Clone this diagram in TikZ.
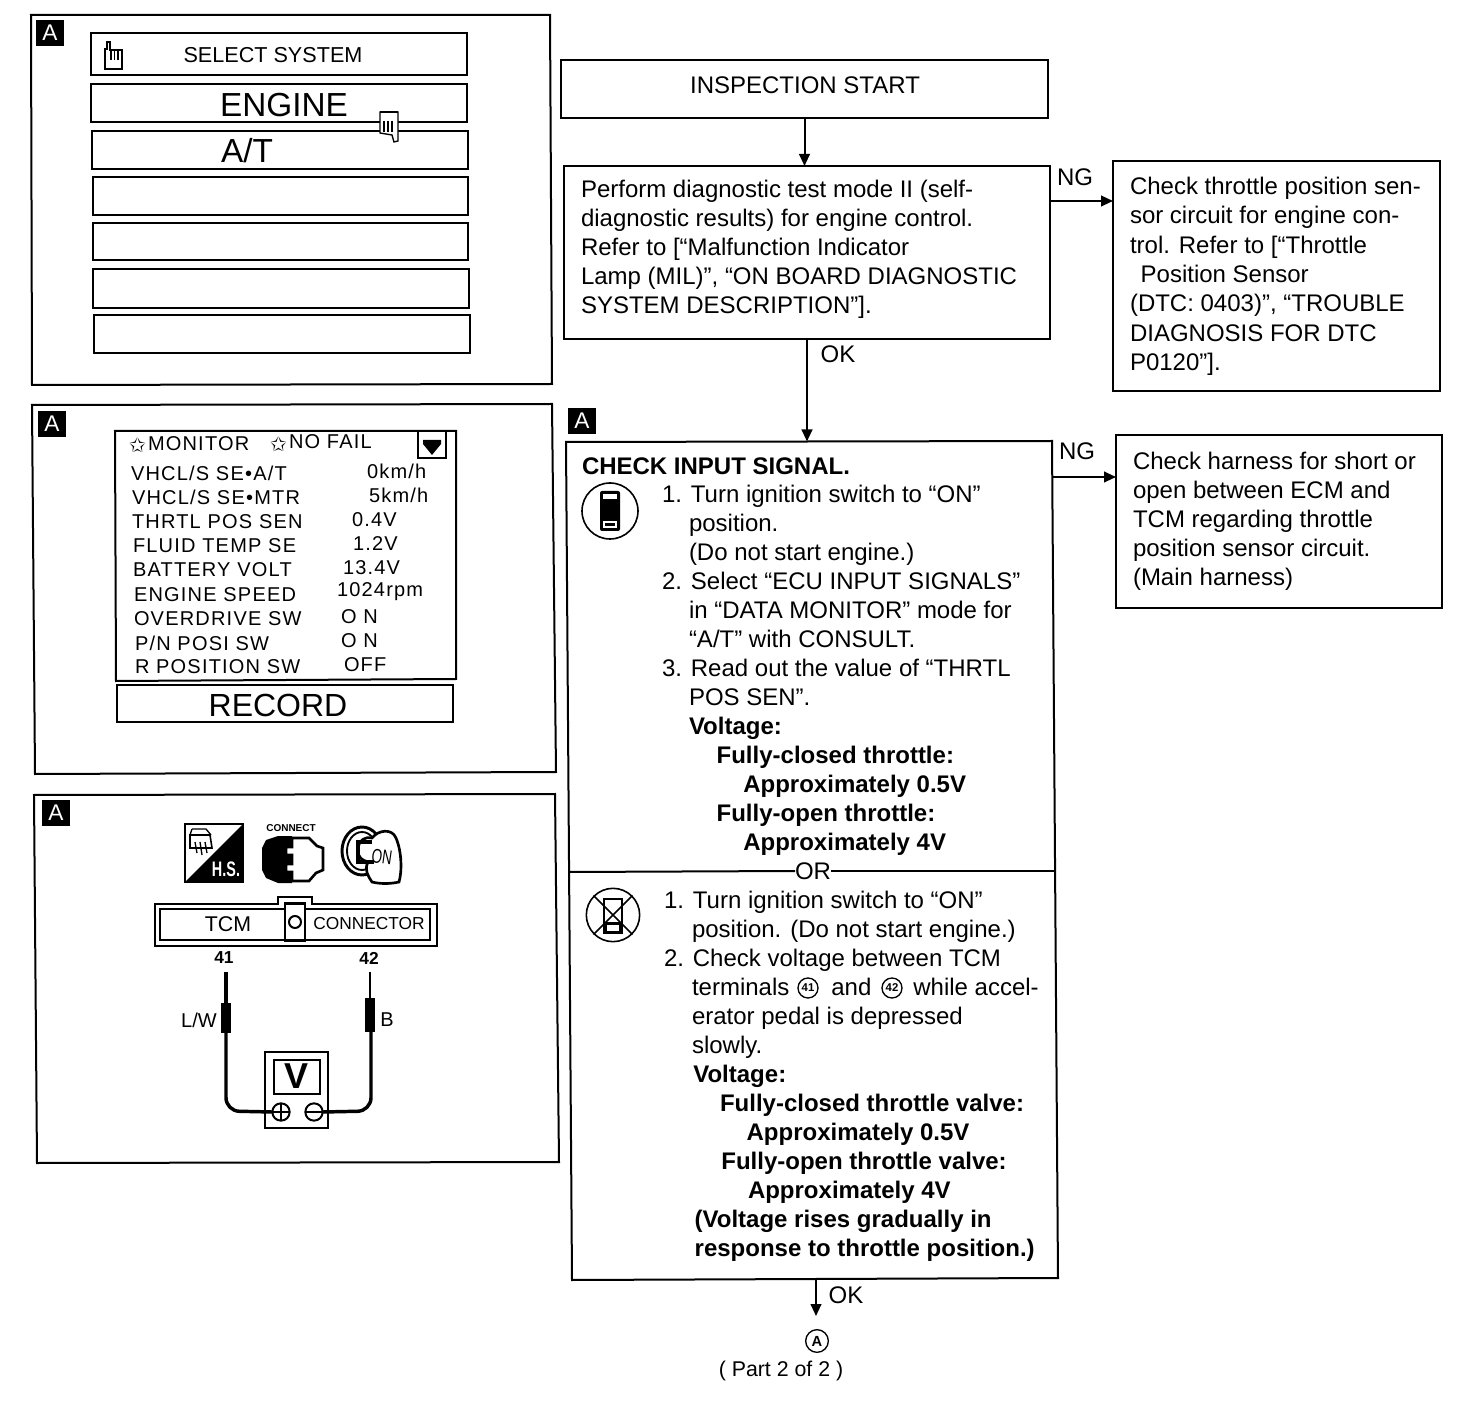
\documentclass[tikz,border=0pt]{standalone}
\usepackage{fontspec}
\setmainfont{Liberation Sans}
\newfontfamily\lcdfont[LetterSpace=6]{Liberation Sans}
\newfontfamily\djvfont{DejaVu Sans}
\usetikzlibrary{arrows.meta}
\tikzset{
  x=0.75pt,y=-0.75pt,
  line/.style={draw=black,line width=1.5pt,line join=miter},
  thickline/.style={draw=black,line width=2.2pt},
  flowbox/.style={draw=black,line width=1.5pt,inner sep=0pt,outer sep=0pt,rectangle},
  rowbox/.style={draw=black,line width=2.2pt,inner sep=0pt,outer sep=0pt,rectangle},
  flow/.style={draw=black,line width=1.5pt,-{Triangle[length=9pt,width=8pt]}},
  txt/.style={inner sep=0pt,outer sep=0pt,anchor=west,font=\fontsize{18}{21.75}\selectfont},
  para/.style={inner sep=0pt,outer sep=0pt,anchor=north west,align=left,font=\fontsize{18}{21.75}\selectfont},
  lcd/.style={inner sep=0pt,outer sep=0pt,anchor=west,font=\fontsize{15}{18}\lcdfont},
  badge/.style={fill=black,text=white,inner sep=0pt,outer sep=0pt,minimum width=20.5pt,minimum height=20pt,font=\fontsize{17}{17}\selectfont},
  numc/.style={draw=black,circle,line width=1pt,inner sep=0pt,outer sep=0pt,minimum size=15pt,font=\bfseries\fontsize{8.5}{8.5}\selectfont},
  wire/.style={draw=black,line width=2.6pt,rounded corners=10pt},
}
\newcommand\bx[6][flowbox]{\node[#1,minimum width={(#5-#3)*0.75pt},minimum height={(#6-#4)*0.75pt}] (#2) at ({(#3+#5)/2},{(#4+#6)/2}) {};}
\newcommand\handicon[2]{%
 \begin{scope}[shift={(#1,#2)}]
  \draw[black,line width=1pt,fill=white] (0,27)--(0,7)--(2,7)--(2,0)--(5,0)--(5,8)--(17,8)--(17,27)--cycle;
  \draw[black,line width=1.2pt] (6,8)--(6,18) (9.5,8)--(9.5,18) (13,8)--(13,18);
 \end{scope}}
\newcommand\downhand[2]{%
 \begin{scope}[shift={(#1,#2)}]
  \draw[black,line width=1pt,fill=white] (0,0)--(18,0)--(18,29)--(14,30)--(12,23)--(0,21)--cycle;
  \draw[black,line width=1.2pt] (4,9)--(4,20) (8,9)--(8,20) (12,9)--(12,20);
  \draw[black,line width=1.6pt] (0,0)--(18,0);
 \end{scope}}
\begin{document}
\begin{tikzpicture}
\useasboundingbox[fill=white] (0,0) rectangle (1472,1408);

% ---------- panel 1
\draw[line] (31,15)--(550,15)--(552,384)--(32,385)--cycle;
\node[badge] (ba1) at (50,33) {A};
\bx[rowbox]{r1}{91}{33}{467}{75}
\bx[rowbox]{r2}{91}{84}{467}{122}
\bx[rowbox]{r3}{92}{131}{468}{169}
\bx[rowbox]{r4}{93}{177}{468}{215}
\bx[rowbox]{r5}{93}{223}{468}{260}
\bx[rowbox]{r6}{93}{269}{469}{308}
\bx[rowbox]{r7}{94}{315}{470}{353}
\node[txt,anchor=center,font=\fontsize{16.2}{20}\selectfont] (sel) at (273,55) {SELECT SYSTEM};
\node[txt,anchor=center,font=\fontsize{25}{28}\selectfont] (eng) at (284,105) {ENGINE};
\node[txt,anchor=center,font=\fontsize{25}{28}\selectfont] (at) at (247,151) {A/T};
\handicon{105}{42}
\downhand{380}{112}

% ---------- panel 2
\draw[line] (32,405)--(552,404)--(556,772)--(35,774)--cycle;
\node[badge] (ba2) at (52,424) {A};
\draw[line] (115,431)--(456,431)--(456,679)--(116,681)--cycle;
\bx{dn}{418}{431}{446}{458}
\fill[black] (423,440)--(441,440)--(441,444)--(432,455)--(423,444)--cycle;
\node[lcd] (st1) at (129,445) {\djvfont\fontsize{15}{15}\selectfont ✩};
\node[lcd] (mon) at (148,444) {MONITOR};
\node[lcd] (st2) at (270,444) {\djvfont\fontsize{15}{15}\selectfont ✩};
\node[lcd] (nof) at (289,442) {NO FAIL};
\node[lcd] (l1) at (131,473) {VHCL/S SE•A/T};
\node[lcd] (v1) at (367,471) {0km/h};
\node[lcd] (l2) at (132,497) {VHCL/S SE•MTR};
\node[lcd] (v2) at (369,495) {5km/h};
\node[lcd] (l3) at (132,522) {THRTL POS SEN};
\node[lcd] (v3) at (352,520) {0.4V};
\node[lcd] (l4) at (133,546) {FLUID TEMP SE};
\node[lcd] (v4) at (353,544) {1.2V};
\node[lcd] (l5) at (133,570) {BATTERY VOLT};
\node[lcd] (v5) at (343,568) {13.4V};
\node[lcd] (l6) at (134,595) {ENGINE SPEED};
\node[lcd] (v6) at (337,592) {1024rpm};
\node[lcd] (l7) at (134,619) {OVERDRIVE SW};
\node[lcd] (v7) at (341,617) {O N};
\node[lcd] (l8) at (135,643) {P/N POSI SW};
\node[lcd] (v8) at (341,641) {O N};
\node[lcd] (l9) at (135,667) {R POSITION SW};
\node[lcd] (v9) at (344,665) {OFF};
\bx{rec}{117}{685}{453}{722}
\node[txt,anchor=center,font=\fontsize{24}{28}\selectfont] (rect) at (278,705) {RECORD};

% ---------- panel 3
\draw[line] (34,795)--(555,794)--(559,1162)--(37,1163)--cycle;
\node[badge] (ba3) at (56,813) {A};
% H.S. icon
\draw[black,line width=1.2pt] (185,824) rectangle (243,882);
\fill[black] (243,824)--(243,882)--(185,882)--cycle;
\node[inner sep=0pt,text=white,font=\bfseries\fontsize{15}{15}\selectfont] (hs) at (226,869) {\scalebox{0.72}[1.05]{H.S.}};
\draw[black,line width=1.2pt,fill=white] (190,835)--(210,835)--(212,848)--(190,848)--cycle;
\draw[black,line width=1pt] (192,829)--(206,829)--(211,835) (192,829)--(190,835) (195,842)--(197,853) (200,842)--(202,855) (205,842)--(207,853);
% connect icon
\node[inner sep=0pt,font=\bfseries\fontsize{7.5}{7.5}\selectfont] (conn) at (291,828) {CONNECT};
\fill[black] (262,848)--(266,840)--(278,836)--(292,836)--(292,883)--(278,883)--(266,878)--(262,870)--cycle;
\draw[black,line width=2pt,fill=white] (292,838)--(309,838)--(317,846)--(323,848)--(323,870)--(316,873)--(309,881)--(292,881)--(292,872)--(286,872)--(286,864)--(292,864)--(292,855)--(286,855)--(286,847)--(292,847)--cycle;
% key icon
\draw[black,line width=2.2pt] (362,851) ellipse (20 and 24);
\draw[black,line width=1.4pt] (362,851) ellipse (15 and 19);
\draw[black,line width=2pt,fill=white] (372,882) .. controls (368,876) and (364,870) .. (368,862) .. controls (362,860) and (358,858) .. (358,850) .. controls (358,840) and (366,836) .. (372,838) .. controls (378,830) and (392,828) .. (396,838) .. controls (402,852) and (402,872) .. (399,882) .. controls (390,884) and (380,884) .. (372,882) -- cycle;
\draw[black,line width=2.4pt] (374,862)--(358,862)--(358,842)--(372,842);
\node[inner sep=0pt,rotate=-8,font=\fontsize{12}{12}\selectfont] (on) at (382,857) {\scalebox{0.85}[1.25]{ON}};
% connector
\draw[black,line width=2pt] (155,904)--(278,904)--(278,897)--(312,897)--(312,904)--(437,904)--(437,946)--(155,946)--cycle;
\bx[rowbox]{ci}{160}{909}{430}{940}
\node[draw=black,fill=white,line width=2.2pt,inner sep=0pt,outer sep=0pt,minimum width=15pt,minimum height=28pt] (cd) at (295,922) {};
\node[draw=black,circle,line width=1.5pt,minimum size=9pt,inner sep=0pt] (cc) at (295,922) {};
\node[txt,anchor=center,font=\fontsize{16}{18}\selectfont] (tcm) at (228,924) {TCM};
\node[txt,anchor=center,font=\fontsize{13}{16}\selectfont] (cnr) at (369,924) {CONNECTOR};
\node[txt,anchor=center,font=\bfseries\fontsize{13}{15}\selectfont] (n41) at (224,958) {41};
\node[txt,anchor=center,font=\bfseries\fontsize{13}{15}\selectfont] (n42) at (369,958) {42};
\coordinate (w1t) at (226,972);
\coordinate (w2t) at (370,972);
\draw[black,line width=3.5pt] (w1t)--(226,1003);
\draw[black,line width=2pt] (w2t)--(370,1000);
\draw[black,line width=7.5pt] (226,1003)--(226,1033);
\draw[black,line width=7.5pt] (370,998)--(370,1032);
\bx{vm}{265}{1052}{328}{1128}
\bx{vd}{274}{1060}{320}{1094}
\node[inner sep=0pt,font=\bfseries\fontsize{27}{28}\selectfont] (vv) at (297,1076) {V};
\node[draw=black,circle,line width=1.5pt,minimum size=13pt,inner sep=0pt,outer sep=0pt,path picture={\draw[black,line width=1.3pt] (path picture bounding box.north)--(path picture bounding box.south) (path picture bounding box.west)--(path picture bounding box.east);}] (pl) at (281,1112) {};
\node[draw=black,circle,line width=1.5pt,minimum size=13pt,inner sep=0pt,outer sep=0pt,path picture={\draw[black,line width=1.3pt] (path picture bounding box.west)--(path picture bounding box.east);}] (mi) at (314,1112) {};
\draw[wire] (226,1033)--(226,1111)--(pl.west);
\draw[wire] (371,1032)--(371,1111)--(mi.east);
\node[txt,anchor=center,font=\fontsize{15}{17}\selectfont] (lw) at (199,1020) {L/W};
\node[txt,anchor=center,font=\fontsize{15}{17}\selectfont] (bl) at (387,1020) {B};

% ---------- flow, right side
\bx{start}{561}{60}{1048}{118}
\node[txt,anchor=center] (startt) at (805,85) {INSPECTION START};
\bx{perf}{564}{166}{1050}{339}
\node[para] (perft) at (581,180) {Perform diagnostic test mode II (self-\\diagnostic results) for engine control.\\Refer to [“Malfunction Indicator\\Lamp (MIL)”, “ON BOARD DIAGNOSTIC\\SYSTEM DESCRIPTION”].};
\bx{ng1}{1113}{161}{1440}{391}
\node[para,font=\fontsize{18}{22}\selectfont] (ng1t) at (1130,177) {Check throttle position sen-\\sor circuit for engine con-\\trol. Refer to [“Throttle\\\hspace*{8pt}Position Sensor\\(DTC: 0403)”, “TROUBLE\\DIAGNOSIS FOR DTC\\P0120”].};
\draw[flow] (start.south) -- (start.south |- perf.north);
\draw[flow] (perf.east |- 0,201) -- (ng1.west |- 0,201);
\node[txt,anchor=center] (ngl1) at (1075,177) {NG};
\node[txt,anchor=center] (okl1) at (838,354) {OK};
\node[badge] (ba4) at (582,421) {A};
% check box
\coordinate (ctl) at (566,442);
\coordinate (ctr) at (1052,441);
\coordinate (cbr) at (1058,1278);
\coordinate (cbl) at (572,1280);
\coordinate (ctop) at (807,441.5);
\coordinate (cbot) at (816,1279);
\draw[line] (ctl)--(ctr)--(cbr)--(cbl)--cycle;
\draw[flow] (perf.south) -- (ctop);
\node[txt,font=\bfseries\fontsize{18}{20}\selectfont] (cis) at (582,466) {CHECK INPUT SIGNAL.};
\node[para] (cht) at (662,485) {1. Turn ignition switch to “ON”\\\hspace*{20.25pt}position.\\\hspace*{20.25pt}(Do not start engine.)\\2. Select “ECU INPUT SIGNALS”\\\hspace*{20.25pt}in “DATA MONITOR” mode for\\\hspace*{20.25pt}“A/T” with CONSULT.\\3. Read out the value of “THRTL\\\hspace*{20.25pt}POS SEN”.\\\hspace*{20.25pt}\textbf{Voltage:}\\\hspace*{41pt}\textbf{Fully-closed throttle:}\\\hspace*{61pt}\textbf{Approximately 0.5V}\\\hspace*{41pt}\textbf{Fully-open throttle:}\\\hspace*{61pt}\textbf{Approximately 4V}};
\coordinate (orl) at (569,872);
\coordinate (orr) at (1054,871);
\node[fill=white,inner sep=3pt,txt,anchor=center] (ort) at (813,871) {OR};
\draw[line] (orl)--(ort.west);
\draw[line] (ort.east)--(orr);
% meter icons
\node[draw=black,circle,line width=1.2pt,minimum size=42pt,inner sep=0pt] (ph) at (610,511) {};
\fill[black,rounded corners=1.5pt] (600,491) rectangle (620,531);
\fill[white] (603,494) rectangle (617,499);
\fill[white] (603,521) rectangle (617,528);
\fill[black] (605,523) rectangle (615,526);
\node[draw=black,circle,line width=1.2pt,minimum size=40pt,inner sep=0pt] (nph) at (613,915) {};
\draw[black,line width=1.2pt] (604,899) rectangle (622,933);
\fill[black] (604,922) rectangle (622,933);
\fill[white] (607,925) rectangle (619,931);
\draw[black,line width=1.2pt] (nph.north west)--(nph.south east) (nph.north east)--(nph.south west);
\node[para] (alt) at (664,891) {1. Turn ignition switch to “ON”\\\hspace*{21pt}position. (Do not start engine.)\\2. Check voltage between TCM\\\hspace*{21pt}terminals \hspace*{21.5pt} and \hspace*{21.5pt} while accel-\\\hspace*{21pt}erator pedal is depressed\\\hspace*{21pt}slowly.\\\hspace*{22pt}\textbf{Voltage:}\\\hspace*{42pt}\textbf{Fully-closed throttle valve:}\\\hspace*{62pt}\textbf{Approximately 0.5V}\\\hspace*{43pt}\textbf{Fully-open throttle valve:}\\\hspace*{63pt}\textbf{Approximately 4V}\\\hspace*{23pt}\textbf{(Voltage rises gradually in}\\\hspace*{23pt}\textbf{response to throttle position.)}};
\node[numc] (c41) at (808,988) {41};
\node[numc] (c42) at (892,988) {42};
\bx{ng2}{1116}{435}{1442}{608}
\node[para] (ng2t) at (1133,452) {Check harness for short or\\open between ECM and\\TCM regarding throttle\\position sensor circuit.\\(Main harness)};
\draw[flow] (ctr |- 0,477) -- (ng2.west |- 0,477);
\node[txt,anchor=center] (ngl2) at (1077,451) {NG};
\node[numc,minimum size=17pt,font=\bfseries\fontsize{11}{11}\selectfont] (ca) at (817,1341) {A};
\draw[flow] (cbot) -- (816,1316);
\node[txt,anchor=center] (okl2) at (846,1295) {OK};
\node[txt,anchor=center,font=\fontsize{16}{18}\selectfont] (part) at (781,1371) {( Part 2 of 2 )};
\end{tikzpicture}
\end{document}
